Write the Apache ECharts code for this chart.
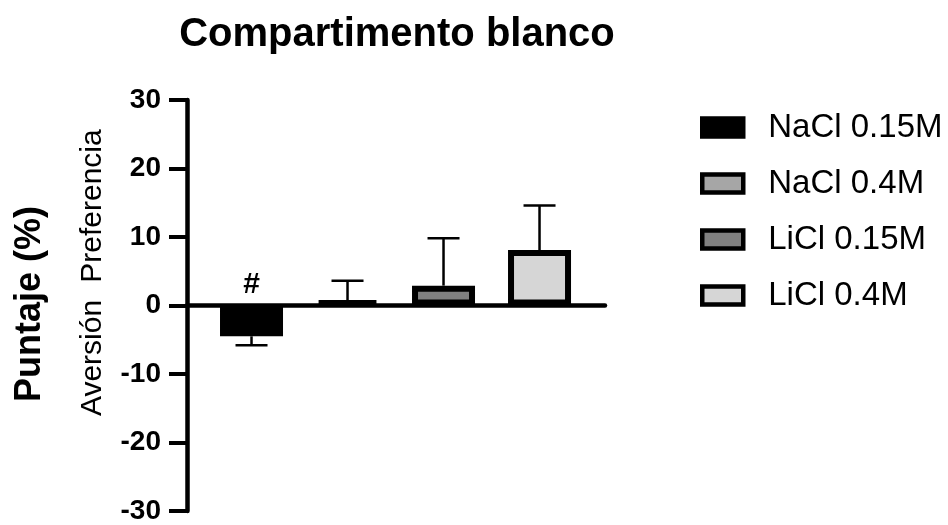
<!DOCTYPE html>
<html>
<head>
<meta charset="utf-8">
<script src="https://cdn.jsdelivr.net/npm/echarts@6/dist/echarts.min.js"></script>
<style>
  html, body { margin: 0; padding: 0; background: #fff; }
  #chart { width: 948px; height: 525px; }
</style>
</head>
<body>
<div id="chart"></div>
<script>
// datos
var groups = ['NaCl 0.15M', 'NaCl 0.4M', 'LiCl 0.15M', 'LiCl 0.4M'];
var means = [-4.5, 0.75, 2.9, 8.1];
var sems = [1.3, 2.85, 6.9, 6.5];
var marks = ['#', '', '', ''];
var fills = ['#000000', '#a6a6a6', '#808080', '#d6d6d6'];
var yTicks = [-30, -20, -10, 0, 10, 20, 30];

var FONT = '"Liberation Sans", Arial, sans-serif';

var chart = echarts.init(document.getElementById('chart'));

var barSeries = groups.map(function (name, i) {
    return {
        name: name,
        type: 'bar',
        barWidth: 63,
        barGap: '-100%',
        data: [[i + 1, means[i]]],
        itemStyle: {
            color: fills[i],
            borderColor: '#000',
            borderWidth: 6
        },
        z: 3
    };
});

var errData = groups.map(function (name, i) {
    return [i + 1, means[i], sems[i]];
});

var errSeries = {
    type: 'custom',
    data: errData,
    z: 2,
    renderItem: function (params, api) {
        var x = api.value(0), m = api.value(1), e = api.value(2);
        var p0 = api.coord([x, m]);
        var p1 = api.coord([x, m < 0 ? m - e : m + e]);
        var half = 16;
        var style = { stroke: '#000', lineWidth: 2.5 };
        var children = [
            { type: 'line', shape: { x1: p0[0], y1: p0[1], x2: p1[0], y2: p1[1] }, style: style },
            { type: 'line', shape: { x1: p1[0] - half, y1: p1[1], x2: p1[0] + half, y2: p1[1] }, style: style }
        ];
        var txt = marks[params.dataIndex];
        if (txt) {
            var pz = api.coord([x, 0]);
            children.push({
                type: 'text',
                style: {
                    text: txt, x: pz[0], y: pz[1] - 21,
                    align: 'center', verticalAlign: 'middle',
                    font: 'bold 30px ' + FONT, fill: '#000'
                }
            });
        }
        return { type: 'group', children: children };
    }
};

var option = {
    backgroundColor: '#fff',
    animation: false,
    title: {
        text: 'Compartimento blanco',
        left: 392,
        top: 10,
        textAlign: 'center',
        textStyle: { fontFamily: FONT, fontWeight: 'bold', fontSize: 40, color: '#000' }
    },
    legend: {
        orient: 'vertical',
        left: 695,
        top: 106,
        itemWidth: 41,
        itemHeight: 18,
        itemGap: 23,
        icon: 'rect',
        data: groups,
        itemStyle: { borderColor: '#000', borderWidth: 4.5 },
        textStyle: { fontFamily: FONT, fontSize: 33, color: '#000', padding: [0, 0, 0, 20] }
    },
    grid: { left: 187, right: 343, top: 100, bottom: 11 },
    xAxis: {
        type: 'value',
        min: 0.328,
        max: 4.682,
        axisLine: { show: true, onZero: true, lineStyle: { color: '#000', width: 4.5 } },
        axisTick: { show: false },
        axisLabel: { show: false },
        splitLine: { show: false }
    },
    yAxis: {
        type: 'value',
        min: -30,
        max: 30,
        interval: 10,
        axisLine: { show: true, onZero: false, lineStyle: { color: '#000', width: 4.5 } },
        axisTick: { show: true, length: 18, lineStyle: { color: '#000', width: 4 } },
        axisLabel: {
            margin: 26,
            fontFamily: FONT, fontWeight: 'bold', fontSize: 28, color: '#000',
            formatter: function (v) { return yTicks.indexOf(v) >= 0 ? String(v) : ''; }
        },
        splitLine: { show: false }
    },
    graphic: [
        {
            type: 'text', x: 30, y: 304, rotation: Math.PI / 2,
            style: { text: 'Puntaje (%)', align: 'center', verticalAlign: 'middle',
                     font: 'bold 36px ' + FONT, fill: '#000' }
        },
        {
            type: 'text', x: 93, y: 206, rotation: Math.PI / 2,
            style: { text: 'Preferencia', align: 'center', verticalAlign: 'middle',
                     font: '30px ' + FONT, fill: '#000' }
        },
        {
            type: 'text', x: 93, y: 358, rotation: Math.PI / 2,
            style: { text: 'Aversión', align: 'center', verticalAlign: 'middle',
                     font: '30px ' + FONT, fill: '#000' }
        }
    ],
    series: barSeries.concat([errSeries])
};

chart.setOption(option);
</script>
</body>
</html>
